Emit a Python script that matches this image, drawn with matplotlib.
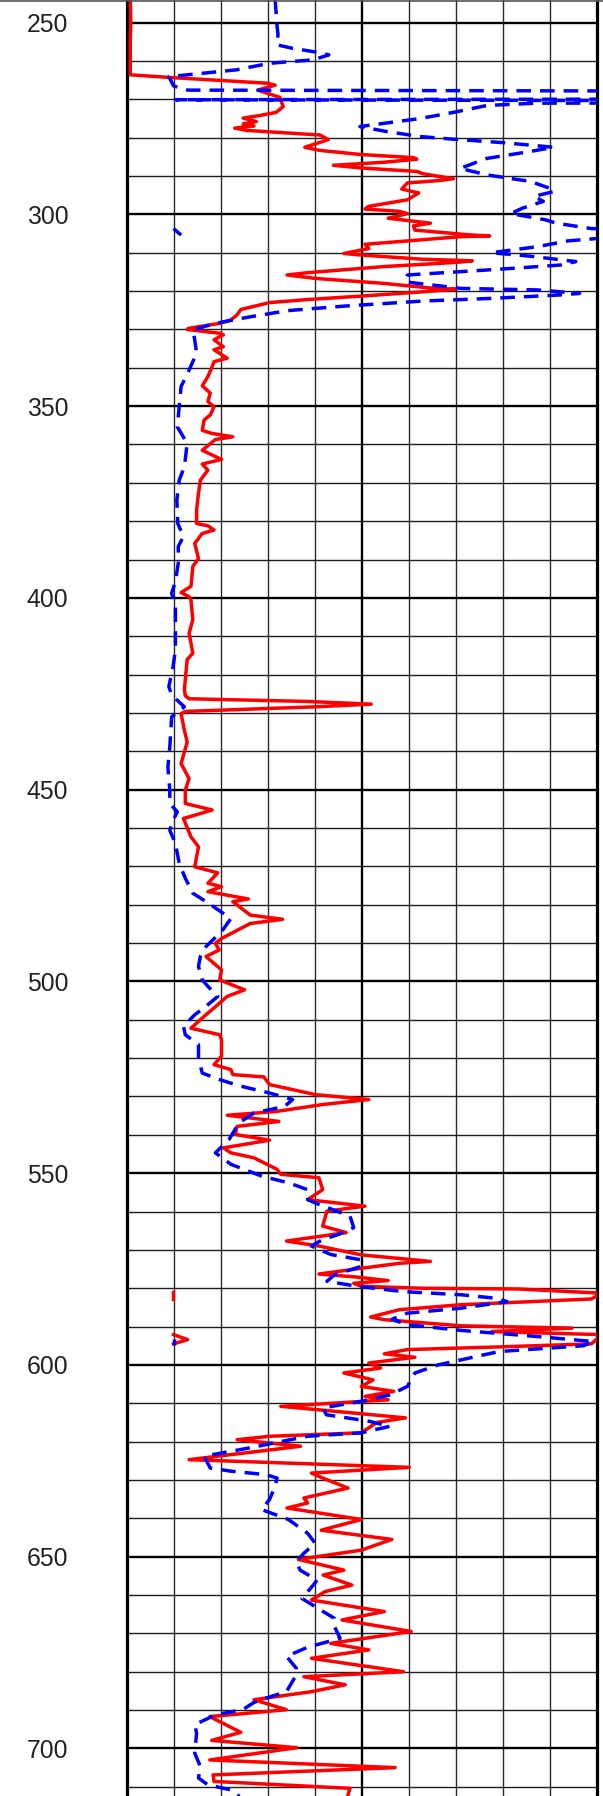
import matplotlib
matplotlib.use("Agg")
import matplotlib.pyplot as plt
import numpy as np

# depth (downwards) and log readings
red_depth = [244, 250, 255, 263.6, 264.3, 265.8, 266.3, 267.6, 269.5, 271.9, 273.4, 274.2, 274.9, 275.8,
             276.4, 276.9, 277.5, 278.1, 279.3, 280.5, 282.5, 283.3, 284.4, 285.2, 285.6, 286.4, 287.2,
             287.9, 288.8, 289.4, 290.7, 291.2, 291.8, 293.4, 294.4, 296.2, 297.9, 298.6, 299.2, 299.8,
             301.0, 302.3, 303.0, 304.1, 305.4, 305.6, 305.8, 307.8, 308.9, 310.2, 310.6, 311.7, 312.1,
             312.5, 313.6, 315.2, 315.8, 316.7, 318.0, 319.3, 319.5, 320.2, 321.3, 322.2, 323.0, 324.8,
             326.2, 327.5, 328.4, 329.7, 330.0, 331.0, 331.4, 332.7, 334.5, 335.3, 337.5, 338.4, 339.7,
             342.3, 344.7, 346.6, 348.8, 350.2, 352.3, 353.6, 356.3, 357.1, 358.0, 358.7, 361.5, 363.9,
             365.1, 366.7, 369.3, 372.7, 377.1, 380.6, 381.2, 382.3, 383.2, 385.8, 389.7, 391.8, 397.0,
             398.6, 399.7, 400.5, 405.7, 409.2, 414.4, 416.1, 423.9, 425.5, 426.3, 427.0, 427.7, 428.4,
             429.6, 430.2, 434.5, 437.6, 443.2, 447.1, 450.1, 453.6, 455.3, 457.1, 457.5, 462.3, 464.9,
             470.1, 471.7, 474.4, 475.3, 476.6, 478.5, 479.2, 482.7, 483.8, 484.9, 488.8, 490.1, 491.8,
             493.5, 497.0, 499.6, 502.2, 503.9, 506.5, 509.1, 512.2, 513.9, 515.2, 519.5, 521.7, 523.0,
             524.3, 524.9, 526.9, 529.5, 530.8, 532.1, 533.9, 534.9, 536.5, 537.8, 539.9, 541.4, 543.4,
             544.7, 546.0, 549.0, 550.3, 551.2, 554.3, 556.9, 558.6, 559.9, 563.8, 565.5, 567.7, 569.0,
             571.3, 573.0, 573.5, 574.8, 576.3, 577.1, 578.0, 578.7, 579.5, 580.0, 580.2, 581.3, 582.8,
             584.3, 585.6, 587.5, 588.2, 589.8, 590.4, 591.3, 592.1, 594.5, 595.3, 596.0, 597.1, 598.0,
             599.5, 600.8, 602.1, 603.9, 605.6, 606.9, 608.2, 609.1, 610.8, 611.7, 613.8, 615.0, 617.7,
             618.6, 619.5, 621.2, 624.7, 626.7, 628.2, 629.5, 632.1, 634.7, 636.0, 637.3, 640.3, 643.1,
             645.5, 648.3, 650.7, 653.5, 654.8, 657.4, 659.1, 661.3, 664.3, 666.5, 669.5, 672.6, 674.3,
             676.5, 680.0, 681.3, 683.4, 685.2, 687.3, 689.9, 691.7, 695.8, 697.9, 699.8, 703.0, 705.0,
             706.9, 708.6, 710.4, 712.5]
red_val = [0.8, 0.9, 0.8, 0.8, 9.2, 30.0, 31.6, 27.9, 32.6, 33.3, 31.8, 28.4, 24.8, 27.6,
           24.8, 27.1, 23.0, 25.5, 41.1, 42.9, 37.9, 41.0, 49.9, 61.0, 61.7, 54.8, 44.0,
           49.9, 61.7, 63.0, 69.5, 66.2, 59.7, 58.5, 62.1, 59.7, 51.5, 50.7, 58.0, 59.7,
           55.6, 64.6, 61.0, 61.3, 73.5, 77.2, 71.1, 50.7, 51.5, 46.2, 49.9, 63.0, 73.5,
           70.3, 54.8, 38.5, 34.1, 40.2, 54.8, 65.4, 69.9, 62.9, 49.9, 38.5, 30.4, 24.3,
           23.5, 22.2, 19.8, 13.3, 12.9, 19.8, 20.6, 18.6, 20.6, 18.6, 21.4, 18.6, 18.2,
           17.3, 16.1, 17.8, 17.3, 18.6, 17.8, 16.5, 16.1, 18.1, 22.6, 18.9, 16.1, 20.2,
           16.1, 17.3, 15.7, 15.3, 14.9, 14.9, 17.3, 18.6, 16.1, 14.5, 15.3, 14.1, 13.7,
           11.6, 13.3, 13.7, 14.1, 13.3, 14.1, 12.9, 12.3, 12.5, 13.3, 38.5, 52.0, 40.1,
           12.5, 11.6, 12.3, 12.9, 11.6, 13.3, 12.5, 12.5, 18.2, 13.3, 12.1, 13.7, 15.3,
           14.5, 19.4, 17.3, 20.2, 17.3, 25.9, 22.6, 26.3, 33.2, 26.3, 20.2, 18.9, 19.7,
           16.9, 20.2, 19.8, 25.1, 21.4, 19.0, 16.5, 13.7, 19.8, 20.2, 20.2, 18.6, 22.2,
           22.6, 29.2, 30.4, 40.1, 51.5, 41.7, 31.9, 21.4, 32.4, 23.5, 23.1, 30.4, 20.6,
           22.2, 27.1, 32.0, 32.8, 40.9, 41.7, 38.5, 50.7, 42.6, 41.7, 46.7, 34.0, 40.9,
           49.9, 64.6, 58.0, 49.9, 40.9, 49.0, 55.6, 48.3, 49.9, 63.0, 83.3, 101.0, 98.8,
           71.1, 58.0, 51.9, 54.8, 71.1, 94.7, 77.6, 101.0, 98.8, 79.2, 59.7, 54.8, 61.3,
           51.5, 54.0, 46.2, 52.4, 49.9, 56.8, 50.7, 55.6, 32.8, 40.9, 59.3, 53.2, 49.9,
           30.4, 23.5, 37.0, 13.3, 60.1, 39.3, 41.7, 47.1, 37.7, 38.5, 34.1, 49.9, 41.4,
           56.4, 49.9, 36.5, 46.2, 41.8, 47.9, 42.2, 39.3, 54.8, 45.8, 60.5, 43.4, 51.5,
           39.3, 58.9, 37.7, 46.5, 39.3, 27.1, 34.0, 17.7, 24.3, 18.1, 36.2, 17.7, 57.1,
           18.4, 18.6, 47.5, 47.0]

blue_depth = [244, 251, 253, 255.8, 256.7, 257.8, 258.4, 259.7, 260.6, 262.3, 264.1, 266.5, 267.6,
              267.9, 269.9, 270.1, 270.4, 270.9, 271.0, 271.6, 273.4, 275.0, 277.1, 278.4, 279.7,
              280.4, 281.3, 282.5, 283.6, 285.4, 288.0, 289.7, 291.4, 293.2, 294.0, 295.3, 296.6,
              298.4, 299.8, 301.4, 302.3, 303.7, 304.2, 306.1, 306.3, 306.9, 308.4, 310.0, 310.9,
              312.3, 313.2, 314.3, 315.8, 317.6, 319.3, 319.7, 320.6, 321.0, 321.9, 322.6, 323.9,
              325.1, 326.7, 328.4, 330.1, 332.7, 336.2, 340.6, 344.9, 350.1, 355.4, 359.7, 365.8,
              369.3, 374.5, 380.6, 384.0, 386.6, 391.0, 395.7, 398.8, 402.3, 407.5, 413.5, 417.9,
              423.1, 425.4, 426.7, 428.4, 431.0, 438.9, 444.1, 450.1, 453.6, 455.8, 458.0, 460.6,
              464.0, 469.2, 473.1, 477.0, 479.2, 483.6, 487.0, 490.9, 493.5, 496.1, 499.6, 501.3,
              503.9, 506.5, 508.7, 511.7, 513.9, 516.5, 520.0, 523.9, 525.6, 527.2, 529.1, 530.8,
              532.6, 534.3, 536.9, 541.2, 544.7, 547.7, 550.8, 552.5, 554.3, 556.9, 558.2, 561.2,
              564.2, 566.0, 567.3, 569.0, 571.2, 572.6, 574.3, 576.5, 578.2, 579.5, 580.9, 581.7,
              582.6, 583.5, 585.2, 586.5, 588.1, 589.5, 591.0, 592.6, 593.9, 595.0, 596.5, 600.0,
              602.1, 605.6, 607.8, 609.5, 611.2, 613.0, 614.7, 616.0, 617.7, 618.6, 621.6, 623.8,
              626.9, 627.7, 628.6, 629.5, 631.6, 635.1, 637.7, 640.3, 643.9, 646.5, 649.1, 651.3,
              653.5, 656.1, 657.4, 660.9, 663.7, 666.1, 668.2, 671.3, 673.6, 676.0, 679.1, 680.8,
              685.2, 686.9, 688.0, 689.9, 691.2, 693.8, 696.0, 701.2, 704.7, 707.7, 709.5, 710.8,
              712.5]
blue_val = [31.6, 32.0, 32.2, 32.0, 35.3, 40.9, 43.0, 39.7, 30.4, 23.4, 9.0, 10.0, 13.0,
            140, 140, 10.5, 140, 140, 87.0, 76.6, 69.5, 62.4, 49.6, 55.3, 62.4,
            69.5, 80.1, 90.8, 85.8, 76.6, 70.9, 76.6, 85.8, 90.0, 91.0, 86.6, 88.6,
            84.1, 81.7, 89.0, 91.4, 98.8, 130, 130, 100.0, 93.9, 87.4, 77.6, 85.8,
            95.5, 92.3, 79.2, 59.7, 59.3, 71.1, 87.4, 96.3, 92.3, 77.6, 62.9, 46.5,
            34.2, 26.3, 19.0, 14.1, 14.5, 14.9, 13.3, 11.6, 11.2, 10.8, 12.9, 12.3,
            11.2, 10.7, 10.9, 12.1, 11.0, 11.0, 10.4, 9.6, 10.4, 10.4, 10.4, 9.9,
            9.0, 9.6, 10.8, 12.3, 9.6, 9.2, 8.8, 9.2, 9.2, 10.8, 9.9, 9.2,
            10.4, 11.2, 12.5, 14.1, 16.9, 22.2, 20.2, 16.9, 15.7, 15.3, 16.1, 17.3,
            19.4, 16.9, 14.5, 12.1, 12.5, 15.3, 15.3, 16.1, 19.8, 23.9, 30.4, 35.3,
            33.6, 27.1, 23.9, 21.8, 18.9, 22.2, 28.8, 34.4, 38.5, 38.5, 41.0, 47.5,
            48.3, 45.0, 41.7, 39.3, 43.4, 49.9, 49.9, 44.2, 42.6, 49.1, 58.9, 71.1,
            78.4, 80.9, 71.1, 59.7, 56.4, 59.7, 71.1, 87.4, 99.2, 97.1, 79.2, 66.2,
            61.3, 59.7, 56.0, 49.9, 41.7, 42.5, 51.6, 56.0, 49.9, 38.5, 26.3, 16.5,
            17.8, 22.2, 29.6, 32.0, 31.6, 30.4, 28.7, 34.4, 38.5, 40.1, 37.7, 36.1,
            36.9, 40.5, 39.7, 37.3, 41.0, 44.2, 44.2, 45.4, 38.5, 34.0, 36.1, 36.1,
            34.0, 29.6, 27.1, 24.7, 19.0, 14.5, 14.9, 14.5, 15.7, 15.3, 17.3, 22.2,
            24.0]

# short detached pieces near the left
red_bits = [([581.0, 582.7], [9.8, 9.8]), ([592.1, 593.4, 594.5], [10.0, 13.0, 10.0])]
blue_bits = [([303.7, 305.4], [10.0, 11.6]), ([593.3, 594.8], [10.0, 10.0])]

depth_ticks = [250, 300, 350, 400, 450, 500, 550, 600, 650, 700]

fig = plt.figure(figsize=(6.03, 17.96), dpi=100)
ax = fig.add_axes([126.5 / 603, 0.0, 470.5 / 603, 1.0])

# grid
for x in range(10, 100, 10):
    ax.axvline(x, color="#000000" if x == 50 else "#2a2a2a", lw=1.7 if x == 50 else 1.0, zorder=1)
for d in range(250, 720, 10):
    major = d % 50 == 0
    ax.axhline(d, color="#000000" if major else "#1e1e1e", lw=1.7 if major else 1.0, zorder=1)

ax.plot(red_val, red_depth, color="red", lw=2.5, zorder=3)
for d, v in red_bits:
    ax.plot(v, d, color="red", lw=2.5, zorder=3)
ax.plot(blue_val, blue_depth, color="blue", lw=2.5, dashes=(4.2, 2.6), zorder=4)
for d, v in blue_bits:
    ax.plot(v, d, color="blue", lw=2.5, dashes=(4.2, 2.6), zorder=4)

ax.set_xlim(0, 100)
ax.set_ylim(712.4, 244.1)
ax.set_xticks([])
ax.set_yticks(depth_ticks)
ax.set_yticklabels([str(t) for t in depth_ticks], fontfamily="Liberation Sans", fontsize=17.8,
                   color="#222222")
ax.tick_params(axis="y", length=0, pad=42)
for side in ["top", "bottom"]:
    ax.spines[side].set_visible(False)
for side in ["left", "right"]:
    ax.spines[side].set_linewidth(2.3)
    ax.spines[side].set_color("black")

fig.add_artist(plt.Line2D([0, 1], [0.9995, 0.9995], transform=fig.transFigure, color="#555555", lw=1.2))

plt.savefig("out.png", dpi=100)
